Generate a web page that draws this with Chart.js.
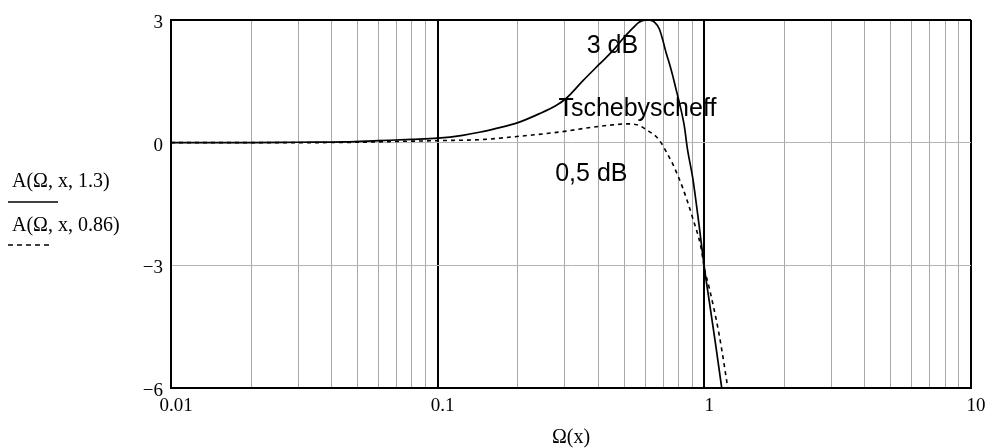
<!DOCTYPE html>
<html>
<head>
<meta charset="utf-8">
<script src="https://cdn.jsdelivr.net/npm/chart.js@4.4.1/dist/chart.umd.min.js"></script>
<style>
  body { margin: 0; background: #fff; }
  canvas { display: block; }
</style>
</head>
<body>
<canvas id="myChart" width="988" height="448"></canvas>
<script>
// 3 dB curve, A(Ω, x, 1.3)
var omega3dB = [0.01, 0.02, 0.03, 0.045, 0.06, 0.08, 0.1, 0.124, 0.145, 0.166, 0.2, 0.241, 0.278, 0.303, 0.35, 0.404, 0.454, 0.495, 0.539, 0.571, 0.612, 0.65, 0.678, 0.698, 0.718, 0.74, 0.761, 0.783, 0.806, 0.841, 0.865, 0.904, 0.957, 1.0, 1.05, 1.106, 1.165, 1.2];
var gain3dB  = [0, 0, 0.01, 0.02, 0.05, 0.08, 0.11, 0.18, 0.26, 0.35, 0.49, 0.71, 0.91, 1.08, 1.51, 1.92, 2.25, 2.54, 2.8, 2.95, 3.0, 2.95, 2.78, 2.52, 2.21, 1.93, 1.64, 1.31, 0.98, 0.41, -0.17, -0.85, -2.05, -3.05, -4.0, -5.0, -6.05, -6.7];

// 0,5 dB curve, A(Ω, x, 0.86)
var omega05dB = [0.01, 0.03, 0.05, 0.07, 0.1, 0.15, 0.19, 0.221, 0.294, 0.393, 0.524, 0.57, 0.605, 0.659, 0.688, 0.739, 0.761, 0.829, 0.904, 0.972, 1.0, 1.044, 1.137, 1.223, 1.26];
var gain05dB  = [0, 0, 0.01, 0.03, 0.05, 0.08, 0.14, 0.18, 0.27, 0.39, 0.46, 0.42, 0.32, 0.15, 0, -0.36, -0.52, -1.1, -1.84, -2.57, -3.07, -3.56, -4.7, -5.97, -6.5];

var xTickValues = [0.01, 0.1, 1, 10];
var xTickLabels = ['0.01', '0.1', '1', '10'];
var yTickValues = [3, 0, -3, -6];
var yTickLabels = ['3', '0', '\u22123', '\u22126'];

function points(xs, ys) {
    return xs.map(function(v, i) { return { x: v, y: ys[i] }; });
}

// vertical grid: 1..9 in every decade
var gridValues = [];
for (var d = 0; d < 3; d++) {
    for (var k = 1; k <= 9; k++) gridValues.push(+(k * xTickValues[d]).toPrecision(3));
}
gridValues.push(10);

var textPlugin = {
    id: 'texts',
    afterDraw: function(chart) {
        var c = chart.ctx, xs = chart.scales.x, ys = chart.scales.y;
        c.save();
        c.fillStyle = '#000';
        c.textAlign = 'center';
        c.textBaseline = 'middle';
        c.font = '25px "Liberation Sans", Arial, sans-serif';
        c.fillText('3 dB', xs.getPixelForValue(0.452), ys.getPixelForValue(2.37));
        c.fillText('Tschebyscheff', xs.getPixelForValue(0.561), ys.getPixelForValue(0.82));
        c.fillText('0,5 dB', xs.getPixelForValue(0.377), ys.getPixelForValue(-0.77));

        c.font = '20px "Liberation Serif", "Times New Roman", serif';
        c.fillText('\u03A9(x)', 571, 438);
        c.textAlign = 'left';
        c.fillText('A(\u03A9, x, 1.3)', 12, 182);
        c.fillText('A(\u03A9, x, 0.86)', 12, 226);

        c.strokeStyle = '#000';
        c.lineWidth = 1.5;
        c.beginPath();
        c.moveTo(8, 202); c.lineTo(58, 202);
        c.stroke();
        c.setLineDash([5, 4]);
        c.beginPath();
        c.moveTo(8, 245); c.lineTo(52, 245);
        c.stroke();
        c.restore();
    }
};

var ctx = document.getElementById('myChart').getContext('2d');
var myChart = new Chart(ctx, {
    type: 'line',
    data: {
        datasets: [{
            label: 'A(\u03A9, x, 1.3)',
            data: points(omega3dB, gain3dB),
            borderColor: '#000',
            borderWidth: 1.7,
            pointRadius: 0,
            cubicInterpolationMode: 'monotone'
        }, {
            label: 'A(\u03A9, x, 0.86)',
            data: points(omega05dB, gain05dB),
            borderColor: '#000',
            borderWidth: 1.6,
            borderDash: [4, 4],
            pointRadius: 0,
            cubicInterpolationMode: 'monotone'
        }]
    },
    options: {
        responsive: false,
        animation: false,
        layout: { padding: { top: 20, right: 17, bottom: 0, left: 0 } },
        plugins: { legend: { display: false }, tooltip: { enabled: false } },
        scales: {
            x: {
                type: 'logarithmic',
                min: 0.01,
                max: 10,
                afterBuildTicks: function(scale) {
                    scale.ticks = gridValues.map(function(v) { return { value: v }; });
                },
                afterFit: function(scale) { scale.height = 60; },
                grid: {
                    drawTicks: false,
                    color: function(c) {
                        return xTickValues.indexOf(c.tick && c.tick.value) >= 0 ? '#000' : '#a8a8a8';
                    },
                    lineWidth: function(c) {
                        return xTickValues.indexOf(c.tick && c.tick.value) >= 0 ? 2 : 1;
                    }
                },
                border: { color: '#000', width: 2 },
                ticks: {
                    autoSkip: false,
                    maxRotation: 0,
                    padding: 7,
                    labelOffset: 5,
                    color: '#000',
                    font: { family: '"Liberation Serif", "Times New Roman", serif', size: 19 },
                    callback: function(v) {
                        var i = xTickValues.indexOf(v);
                        return i >= 0 ? xTickLabels[i] : '';
                    }
                }
            },
            y: {
                min: -6,
                max: 3,
                afterBuildTicks: function(scale) {
                    scale.ticks = yTickValues.map(function(v) { return { value: v }; });
                },
                afterFit: function(scale) { scale.width = 171; },
                grid: {
                    drawTicks: false,
                    color: function(c) {
                        return c.tick && (c.tick.value === 3 || c.tick.value === -6) ? '#000' : '#b4b4b4';
                    },
                    lineWidth: function(c) {
                        return c.tick && (c.tick.value === 3 || c.tick.value === -6) ? 2 : 1;
                    }
                },
                border: { color: '#000', width: 2 },
                ticks: {
                    padding: 8,
                    labelOffset: 3,
                    color: '#000',
                    font: { family: '"Liberation Serif", "Times New Roman", serif', size: 19 },
                    callback: function(v) {
                        var i = yTickValues.indexOf(v);
                        return i >= 0 ? yTickLabels[i] : '';
                    }
                }
            }
        }
    },
    plugins: [textPlugin]
});
</script>
</body>
</html>
